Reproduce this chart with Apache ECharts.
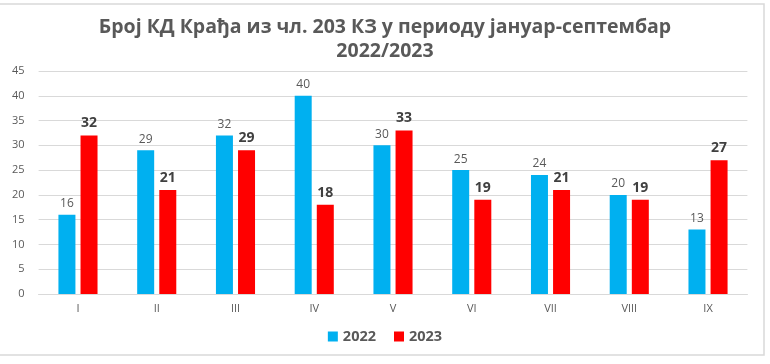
<!DOCTYPE html>
<html><head><meta charset="utf-8">
<script src="https://cdn.jsdelivr.net/npm/echarts@6/dist/echarts.min.js"></script>
<style>html,body{margin:0;padding:0;background:#fff}#c{width:770px;height:364px}</style>
</head><body><div id="c"></div>
<script>
const categories = ['I','II','III','IV','V','VI','VII','VIII','IX'];
const values2022 = [16,29,32,40,30,25,24,20,13];
const values2023 = [32,21,29,18,33,19,21,19,27];
const seriesNames = ['2022','2023'];
const titleText = 'Број КД Крађа из чл. 203 КЗ у периоду јануар-септембар\n2022/2023';

const chart = echarts.init(document.getElementById('c'), null, {renderer:'canvas'});
const FONT = '"Open Sans", "Noto Sans", sans-serif';
chart.setOption({
  backgroundColor:'#fff',
  animation:false,
  graphic:[{type:'rect',shape:{x:-2,y:4,width:766,height:351},style:{fill:'none',stroke:'#d9d9d9',lineWidth:1.5},silent:true}],
  title:{text:titleText,left:'center',top:10,textStyle:{fontFamily:FONT,fontSize:19.5,fontWeight:'bold',color:'#595959',lineHeight:24}},
  legend:{bottom:15,left:'center',itemWidth:10,itemHeight:10,itemGap:18,icon:'rect',
    textStyle:{fontFamily:FONT,fontSize:14.5,fontWeight:'bold',color:'#595959'},data:seriesNames},
  grid:{left:38.6,right:22.6,top:71,bottom:70,containLabel:false},
  xAxis:{type:'category',data:categories,
    axisLine:{lineStyle:{color:'#d9d9d9'}},axisTick:{show:false},
    axisLabel:{fontFamily:FONT,fontSize:11,color:'#595959',margin:9}},
  yAxis:{type:'value',min:0,max:45,interval:5,
    axisLine:{show:false},axisTick:{show:false},
    splitLine:{lineStyle:{color:'#d9d9d9'}},
    axisLabel:{fontFamily:FONT,fontSize:11,color:'#595959',margin:14}},
  series:[
    {name:seriesNames[0],type:'bar',data:values2022,barWidth:17,barGap:'30%',itemStyle:{color:'#00B0F0'},
     label:{show:true,position:'top',distance:5,fontFamily:FONT,fontSize:12,color:'#595959'}},
    {name:seriesNames[1],type:'bar',data:values2023,barWidth:17,itemStyle:{color:'#FF0000'},
     label:{show:true,position:'top',distance:5,fontFamily:FONT,fontSize:14,fontWeight:'bold',color:'#404040'}}
  ]
});
</script></body></html>
